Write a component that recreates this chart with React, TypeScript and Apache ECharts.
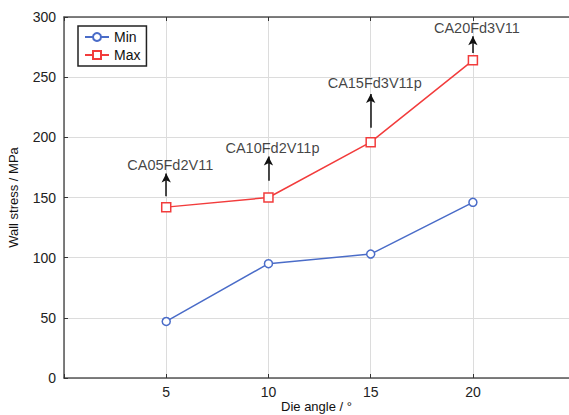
import React, { useEffect, useRef } from "react";
import * as echarts from "echarts";

const dieAngles = [5, 10, 15, 20];
const minStress = [47, 95, 103, 146];
const maxStress = [142, 150, 196, 264];
const yTicks = [0, 50, 100, 150, 200, 250, 300];
const annoLabels = ["CA05Fd2V11", "CA10Fd2V11p", "CA15Fd3V11p", "CA20Fd3V11"];
const arrowFrom = [151, 164, 208, 270];
const arrowTo = [170, 184, 236, 284];
const labelAt = [177, 191, 245, 291];

export default function App() {
  const ref = useRef<HTMLDivElement>(null);
  useEffect(() => {
    const chart = echarts.init(ref.current!, null, { renderer: "svg" });
    const font = "Liberation Sans, Arial, sans-serif";
    const xFmt = (v: number) => (v === 0 || v > 20 ? "" : String(v));
    chart.setOption({
      animation: false,
      textStyle: { fontFamily: font },
      grid: { left: 64, top: 17, right: 0, bottom: 37, outerBoundsMode: "none", containLabel: false },
      legend: {
        data: ["Min", "Max"],
        orient: "vertical",
        left: 78,
        top: 26,
        borderColor: "#222",
        borderWidth: 1.5,
        padding: [4, 6, 4, 6],
        itemGap: 4,
        itemWidth: 24,
        itemHeight: 10,
        textStyle: { fontSize: 14, color: "#111", fontFamily: font },
      },
      xAxis: [
        {
          type: "value",
          min: 0,
          max: 24.7,
          interval: 5,
          name: "Die angle / °",
          nameLocation: "middle",
          nameGap: 22,
          nameMoveOverlap: false,
          nameTextStyle: { fontSize: 13, color: "#111", verticalAlign: "top" },
          axisLine: { show: true, lineStyle: { color: "#555", width: 1.5 } },
          axisTick: { show: true, inside: true, length: 4, lineStyle: { color: "#333" } },
          axisLabel: {
            fontSize: 14,
            color: "#222",
            margin: 7,
            showMaxLabel: false,
            formatter: xFmt,
          },
          splitLine: { show: true, lineStyle: { color: "#dcdcdc", width: 1 } },
        },
        {
          type: "value",
          position: "top",
          min: 0,
          max: 24.7,
          interval: 5,
          axisLine: { show: true, lineStyle: { color: "#555", width: 1.5 } },
          axisTick: { show: true, inside: true, length: 4, lineStyle: { color: "#333" } },
          axisLabel: { show: false },
          splitLine: { show: false },
        },
      ],
      yAxis: {
        type: "value",
        min: yTicks[0],
        max: yTicks[yTicks.length - 1],
        interval: 50,
        name: "Wall stress / MPa",
        nameLocation: "middle",
        nameGap: 44,
        nameTextStyle: { fontSize: 13, color: "#111" },
        axisLine: { show: true, lineStyle: { color: "#555", width: 1.5 } },
        axisTick: { show: true, inside: true, length: 4, lineStyle: { color: "#333" } },
        axisLabel: { fontSize: 14, color: "#222", margin: 8 },
        splitLine: { show: true, lineStyle: { color: "#dcdcdc", width: 1 } },
      },
      series: [
        {
          name: "Min",
          type: "line",
          data: dieAngles.map((x, i) => [x, minStress[i]]),
          symbol: "circle",
          symbolSize: 8,
          color: "#4a6cc8",
          lineStyle: { width: 1.5, color: "#4a6cc8" },
          itemStyle: { color: "#fff", borderColor: "#4a6cc8", borderWidth: 1.5 },
        },
        {
          name: "Max",
          type: "line",
          data: dieAngles.map((x, i) => [x, maxStress[i]]),
          symbol: "rect",
          symbolSize: 9,
          color: "#f23c3c",
          lineStyle: { width: 1.5, color: "#f23c3c" },
          itemStyle: { color: "#fff", borderColor: "#f23c3c", borderWidth: 1.5 },
          markLine: {
            silent: true,
            symbol: ["none", "arrow"],
            symbolSize: [7, 9],
            label: { show: false },
            lineStyle: { color: "#111", width: 1.5, type: "solid" },
            data: dieAngles.map((x, i) => [
              { coord: [x, arrowFrom[i]] },
              { coord: [x, arrowTo[i]] },
            ]),
          },
        },
        {
          name: "labels",
          type: "scatter",
          symbolSize: 0,
          silent: true,
          data: dieAngles.map((x, i) => [x, labelAt[i], annoLabels[i]]),
          label: {
            show: true,
            position: "inside",
            offset: [4, 0],
            fontSize: 14.5,
            color: "#111",
            formatter: (p: any) => p.value[2],
          },
        },
      ],
    });
    return () => chart.dispose();
  }, []);
  return <div ref={ref} style={{ width: 569, height: 415, position: "absolute", left: 0, top: 0 }} />;
}
